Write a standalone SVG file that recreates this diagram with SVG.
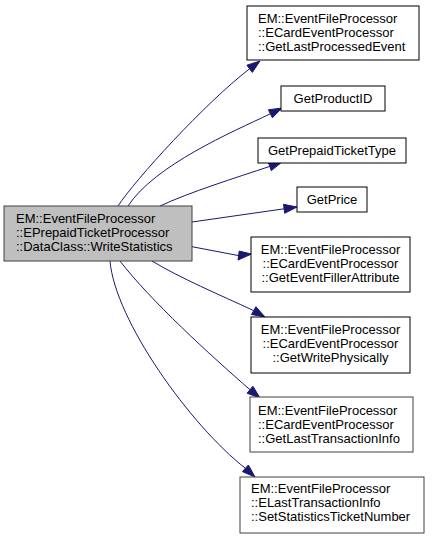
<svg xmlns="http://www.w3.org/2000/svg" width="432" height="539" viewBox="0 0 432 539">
<style>
text{font-family:"Liberation Sans",Arial,sans-serif;font-size:13px;fill:#000}
.n{fill:#fff;stroke:#000;stroke-width:1}
.g{stroke:#404040}
.m{text-anchor:middle}
.e path{fill:none;stroke:#191970;stroke-width:1}
.e polygon{fill:#191970;stroke:#191970;stroke-width:1}
</style>
<rect width="432" height="539" fill="#fff"/>
<g id="edges" class="e">
<path d="M118,206 C135,180 205,103 249.6,68.8"/>
<polygon points="260,61 252.3,72.4 246.9,65.2"/>
<path d="M128,206 C155,165 232,132 270.4,113.8"/>
<polygon points="282,108 272.4,117.8 268.4,109.8"/>
<path d="M160,206 C190,192 235,178 269.8,166.4"/>
<polygon points="282,162 271.3,170.6 268.3,162.2"/>
<path d="M192,222 L284.1,208.8"/>
<polygon points="297,207 284.7,213.3 283.5,204.3"/>
<path d="M192,246.7 L238.6,255.6"/>
<polygon points="251.5,254 238,260.1 239.2,251.1"/>
<path d="M152,261 C180,278 220,295 253.7,310.6"/>
<polygon points="265,317 251.5,314.5 255.9,306.7"/>
<path d="M120,261 C150,300 210,355 250,389.7"/>
<polygon points="260,398 247.1,393.2 252.9,386.2"/>
<path d="M110,261 C115,320 190,425 245.4,468.3"/>
<polygon points="255,477 242.4,471.6 248.4,465"/>
</g>
<g id="main">
<rect x="4" y="206" width="188" height="55" fill="#bfbfbf" stroke="#404040"/>
<text x="16" y="223">EM::EventFileProcessor</text>
<text x="16" y="237">::EPrepaidTicketProcessor</text>
<text x="16" y="251">::DataClass::WriteStatistics</text>
</g>
<g id="n1">
<rect class="n" x="247" y="6" width="172" height="54"/>
<text x="258" y="23">EM::EventFileProcessor</text>
<text x="258" y="37">::ECardEventProcessor</text>
<text x="258" y="51">::GetLastProcessedEvent</text>
</g>
<g id="n2">
<rect class="n" x="281" y="86" width="104" height="25"/>
<text class="m" x="333" y="103">GetProductID</text>
</g>
<g id="n3">
<rect class="n" x="258" y="138" width="148" height="25"/>
<text class="m" x="332" y="155">GetPrepaidTicketType</text>
</g>
<g id="n4">
<rect class="n" x="297" y="187" width="70" height="25"/>
<text class="m" x="332" y="204">GetPrice</text>
</g>
<g id="n5">
<rect class="n" x="251" y="237" width="159" height="55"/>
<text class="m" x="330.5" y="254">EM::EventFileProcessor</text>
<text class="m" x="330.5" y="268">::ECardEventProcessor</text>
<text class="m" x="330.5" y="282">::GetEventFillerAttribute</text>
</g>
<g id="n6">
<rect class="n" x="251" y="317" width="159" height="56"/>
<text class="m" x="330.5" y="334">EM::EventFileProcessor</text>
<text class="m" x="330.5" y="348">::ECardEventProcessor</text>
<text class="m" x="330.5" y="362">::GetWritePhysically</text>
</g>
<g id="n7">
<rect class="n g" x="250" y="397" width="163" height="55"/>
<text x="258" y="415">EM::EventFileProcessor</text>
<text x="258" y="429">::ECardEventProcessor</text>
<text x="258" y="443">::GetLastTransactionInfo</text>
</g>
<g id="n8">
<rect class="n g" x="240" y="477" width="184" height="56"/>
<text x="251" y="493">EM::EventFileProcessor</text>
<text x="251" y="507">::ELastTransactionInfo</text>
<text x="251" y="521">::SetStatisticsTicketNumber</text>
</g>
</svg>
